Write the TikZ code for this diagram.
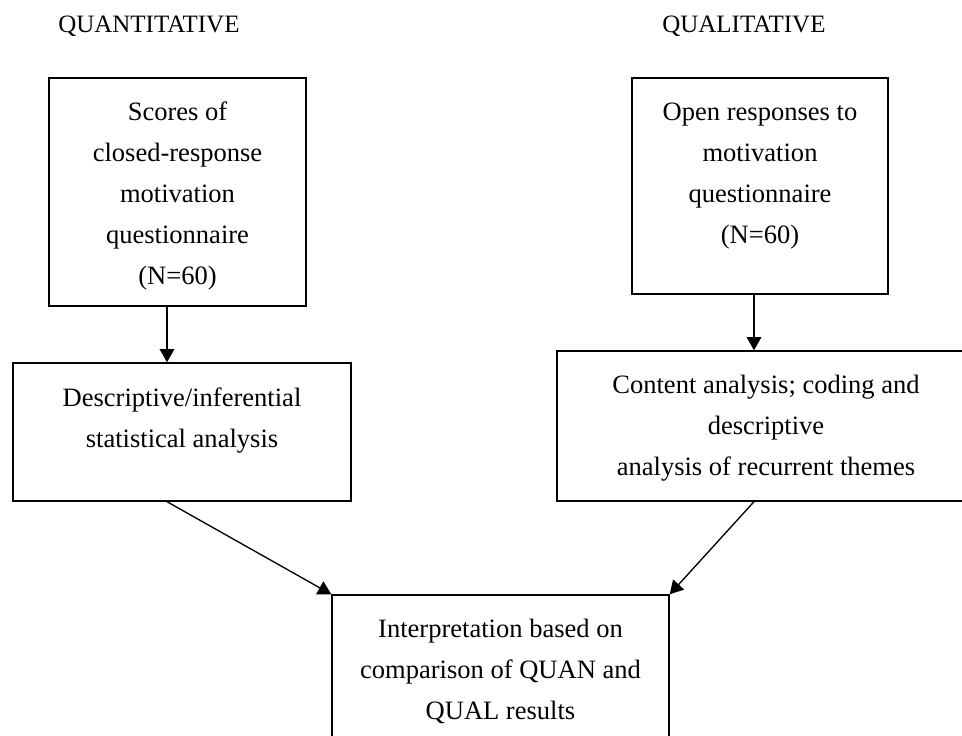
\documentclass[tikz,border=0pt]{standalone}
\usepackage{fontspec}
\setmainfont{Liberation Serif}
\usetikzlibrary{arrows.meta,fit}
\begin{document}
\begin{tikzpicture}[x=0.75pt,y=-0.75pt,
  box/.style={draw=black, line width=1pt, inner sep=0pt},
  txt/.style={align=center, inner sep=0pt, anchor=north, font=\fontsize{19.9pt}{30.75pt}\selectfont},
  head/.style={inner sep=0pt, anchor=base west, font=\fontsize{18.75pt}{22pt}\selectfont},
  arr/.style={-{Triangle[width=11pt,length=10pt]}, line width=1pt}]
\useasboundingbox (0,0) rectangle (962,735);
\clip (0,0) rectangle (962,735);

\node[head] (h1) at (58,33) {QUANTITATIVE};
\node[head] (h2) at (662,33) {QUALITATIVE};

\node[box, fit={(49,78) (306,306)}] (b1) {};
\node[box, fit={(632,78) (888,294)}] (b2) {};
\node[box, fit={(13,363) (351,501)}] (b3) {};
\node[box, fit={(557,351) (975,501)}] (b4) {};
\node[box, fit={(332,595) (669,750)}] (b5) {};

\node[txt] (t1) at (177.5,100) {\rule{0pt}{15pt}Scores of\\closed-response\\motivation\\questionnaire\\(N=60)};
\node[txt] (t2) at (760,100) {\rule{0pt}{15pt}Open responses to\\motivation\\questionnaire\\(N=60)};
\node[txt] (t3) at (182,386) {\rule{0pt}{15pt}Descriptive/inferential\\statistical analysis};
\node[txt] (t4) at (766,373) {\rule{0pt}{15pt}Content analysis; coding and\\descriptive\\analysis of recurrent themes};
\node[txt] (t5) at (500.5,617) {\rule{0pt}{15pt}Interpretation based on\\comparison of QUAN and\\QUAL results};

\draw[arr] (167,0 |- b1.south) -- (167,0 |- b3.north);
\draw[arr] (754,0 |- b2.south) -- (754,0 |- b4.north);
\draw[arr] (167,0 |- b3.south) -- (b5.north west);
\draw[arr] (754,0 |- b4.south) -- (b5.north east);
\end{tikzpicture}
\end{document}
